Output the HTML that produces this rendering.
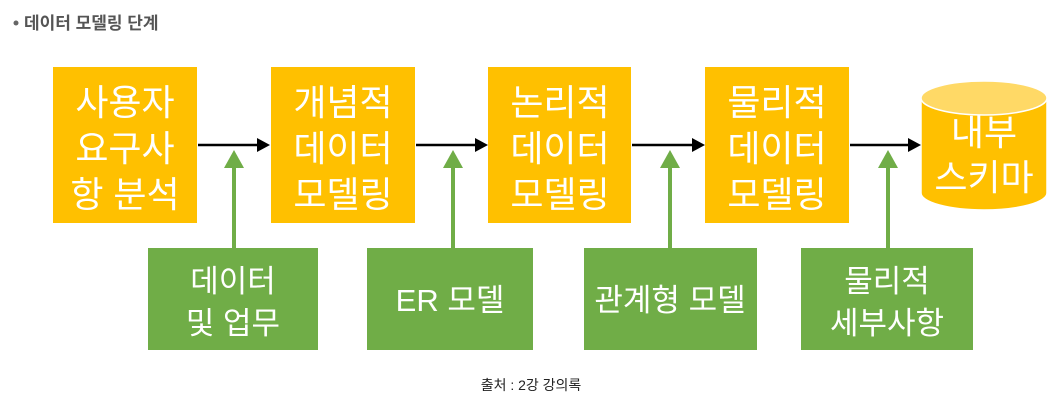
<!DOCTYPE html>
<html><head><meta charset="utf-8"><style>
html,body{margin:0;padding:0;background:#fff;width:1063px;height:408px;overflow:hidden}
svg text{font-family:"Liberation Sans","Noto Sans CJK KR",sans-serif}
</style></head><body>
<svg width="1063" height="408" viewBox="0 0 1063 408" xmlns="http://www.w3.org/2000/svg">
<circle cx="16" cy="23" r="2.5" fill="#666"/>
<text x="24" y="29" font-size="17" font-weight="bold" fill="#555">데이터 모델링 단계</text>
<g fill="#FFC000">
<rect x="53" y="67" width="144" height="156"/>
<rect x="271" y="67" width="144" height="156"/>
<rect x="488" y="67" width="143" height="156"/>
<rect x="705" y="67" width="144" height="156"/>
</g>
<g fill="#FFC000" stroke="#fff" stroke-width="1.5">
<path d="M921 98 V193 A63 17 0 0 0 1047 193 V98"/>
<ellipse cx="984" cy="98" rx="63" ry="17" fill="#FFD966"/>
</g>
<g fill="#70AD47">
<rect x="148" y="248" width="170" height="102"/>
<rect x="367" y="248" width="166" height="102"/>
<rect x="584" y="248" width="173" height="102"/>
<rect x="801" y="248" width="172" height="102"/>
</g>
<g stroke="#000" stroke-width="2.5">
<line x1="198" y1="145" x2="258" y2="145"/>
<line x1="416" y1="145" x2="476" y2="145"/>
<line x1="632" y1="145" x2="693" y2="145"/>
<line x1="850" y1="145" x2="910" y2="145"/>
</g>
<g fill="#000">
<polygon points="270,145 257,138 257,152"/>
<polygon points="488,145 475,138 475,152"/>
<polygon points="705,145 692,138 692,152"/>
<polygon points="921,145 908,138 908,152"/>
</g>
<g stroke="#70AD47" stroke-width="4">
<line x1="234" y1="165" x2="234" y2="248"/>
<line x1="453" y1="165" x2="453" y2="248"/>
<line x1="670" y1="165" x2="670" y2="248"/>
<line x1="888" y1="165" x2="888" y2="248"/>
</g>
<g fill="#70AD47">
<polygon points="234,150 224,168 244,168"/>
<polygon points="453,150 443,168 463,168"/>
<polygon points="670,150 660,168 680,168"/>
<polygon points="888,150 878,168 898,168"/>
</g>
<g fill="#fff" font-size="36" text-anchor="middle">
<text x="125" y="115">사용자</text><text x="125" y="161">요구사</text><text x="125" y="207">항 분석</text>
<text x="343" y="115">개념적</text><text x="343" y="161">데이터</text><text x="343" y="207">모델링</text>
<text x="560" y="115">논리적</text><text x="560" y="161">데이터</text><text x="560" y="207">모델링</text>
<text x="777" y="115">물리적</text><text x="777" y="161">데이터</text><text x="777" y="207">모델링</text>
<text x="984" y="145">내부</text><text x="984" y="190">스키마</text>
</g>
<g fill="#fff" font-size="31" text-anchor="middle">
<text x="233" y="292">데이터</text><text x="233" y="334">및 업무</text>
<text x="450" y="311">ER 모델</text>
<text x="670" y="311">관계형 모델</text>
<text x="887" y="292">물리적</text><text x="887" y="334">세부사항</text>
</g>
<text x="531" y="390" font-size="14" fill="#222" text-anchor="middle">출처 : 2강 강의록</text>
</svg>
</body></html>
